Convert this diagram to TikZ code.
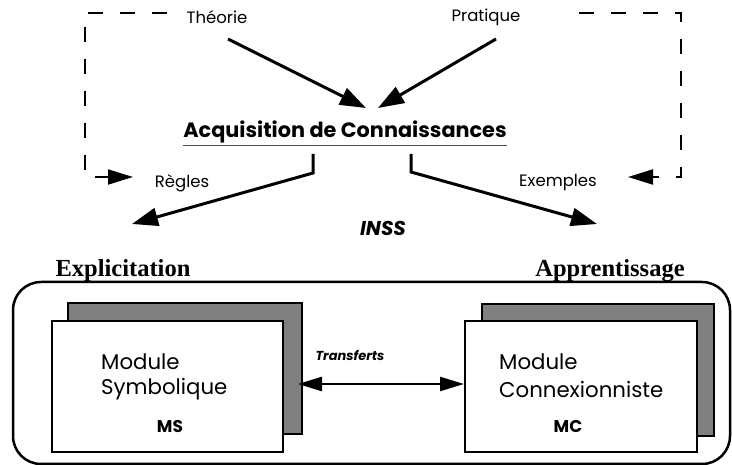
\documentclass[tikz,border=0pt]{standalone}
\usepackage{fontspec}
\setmainfont{Poppins}
\newfontfamily\serifbf{Liberation Serif}
\usetikzlibrary{arrows.meta}
\begin{document}
\begin{tikzpicture}[x=1pt,y=-1pt,
  lbl/.style={font=\fontsize{16.5}{18}\selectfont, inner sep=0},
  bigarrow/.style={line width=3pt, -{Triangle[length=26pt,width=18pt]}},
  dashline/.style={line width=2pt, dash pattern=on 15pt off 17pt},
  dasharrow/.style={dashline, -{Triangle[length=25pt,width=15pt]}},
  frontbox/.style={draw, line width=1.5pt, fill=white},
  shadowbox/.style={draw, line width=1.5pt, fill=black!50},
  modtxt/.style={font=\fontsize{21.3}{23}\selectfont, inner sep=0, anchor=west},
  modabbr/.style={font=\bfseries\fontsize{17}{19}\selectfont, inner sep=0},
  phase/.style={font=\serifbf\bfseries\fontsize{24.5}{27}\selectfont, inner sep=0}]
\useasboundingbox (0,0) rectangle (732,465);

% labels
\node[lbl] (theo) at (217,17) {Théorie};
\node[lbl] (prat) at (486,17) {Pratique};
\node[lbl] (regl) at (182,183) {Règles};
\node[lbl] (exem) at (558,183) {Exemples};
\node[font=\bfseries\fontsize{20.8}{23}\selectfont, inner sep=0] (acq) at (345,132) {Acquisition de Connaissances};
\draw[line width=1pt, black!70] ([yshift=-2pt]acq.south west) -- ([yshift=-2pt]acq.south east);
\node[font=\bfseries\itshape\fontsize{20}{22}\selectfont, inner sep=0] (inss) at (383,228) {INSS};

% dashed feedback lines
\coordinate (dl0) at (167,13);
\coordinate (dl1) at (85,13);
\coordinate (dl2) at (85,177);
\coordinate (dl3) at (133,177);
\draw[dasharrow] (dl0) -- (dl1) -- (dl2) -- (dl3);
\coordinate (dr0) at (579,13);
\coordinate (dr1) at (681,13);
\coordinate (dr2) at (681,177);
\coordinate (dr3) at (628,177);
\draw[dasharrow] (dr0) -- (dr1) -- (dr2) -- (dr3);

% arrows into acquisition
\coordinate (t0) at (228,39);
\coordinate (t1) at (366,108);
\draw[bigarrow] (t0) -- (t1);
\coordinate (p0) at (496,39);
\coordinate (p1) at (378,108);
\draw[bigarrow] (p0) -- (p1);

% arrows out of acquisition
\coordinate (r0) at (313,154);
\coordinate (r1) at (313,173);
\coordinate (r2) at (132,224);
\draw[bigarrow] (r0) -- (r1) -- (r2);
\coordinate (e0) at (411,154);
\coordinate (e1) at (411,172);
\coordinate (e2) at (597,224);
\draw[bigarrow] (e0) -- (e1) -- (e2);

% outer box
\draw[line width=2.5pt, rounded corners=28pt] (13,282) rectangle (730,464);
\node[phase] (expl) at (123,271) {Explicitation};
\node[phase] (appr) at (610,271) {Apprentissage};

% modules
\draw[shadowbox] (68,303) rectangle (302,434);
\node[frontbox, minimum width=231pt, minimum height=131pt, inner sep=0] (ms) at (167.5,386.5) {};
\node[modtxt] at (101,362) {Module};
\node[modtxt] at (101,389) {Symbolique};
\node[modabbr] at (170,427) {MS};

\draw[shadowbox] (482,304) rectangle (714,436);
\node[frontbox, minimum width=232pt, minimum height=131pt, inner sep=0] (mc) at (581,386.5) {};
\node[modtxt] at (499,362) {Module};
\node[modtxt] at (499,389) {Connexionniste};
\node[modabbr] at (568,427) {MC};

% transferts
\coordinate (tl) at (298,384);
\coordinate (tr) at (464,384);
\draw[line width=2.5pt, {Triangle[length=24pt,width=14pt]}-{Triangle[length=24pt,width=14pt]}] (tl) -- (tr);
\node[font=\bfseries\itshape\fontsize{13}{15}\selectfont, inner sep=0] (trf) at (350,355) {Transferts};
\end{tikzpicture}
\end{document}
